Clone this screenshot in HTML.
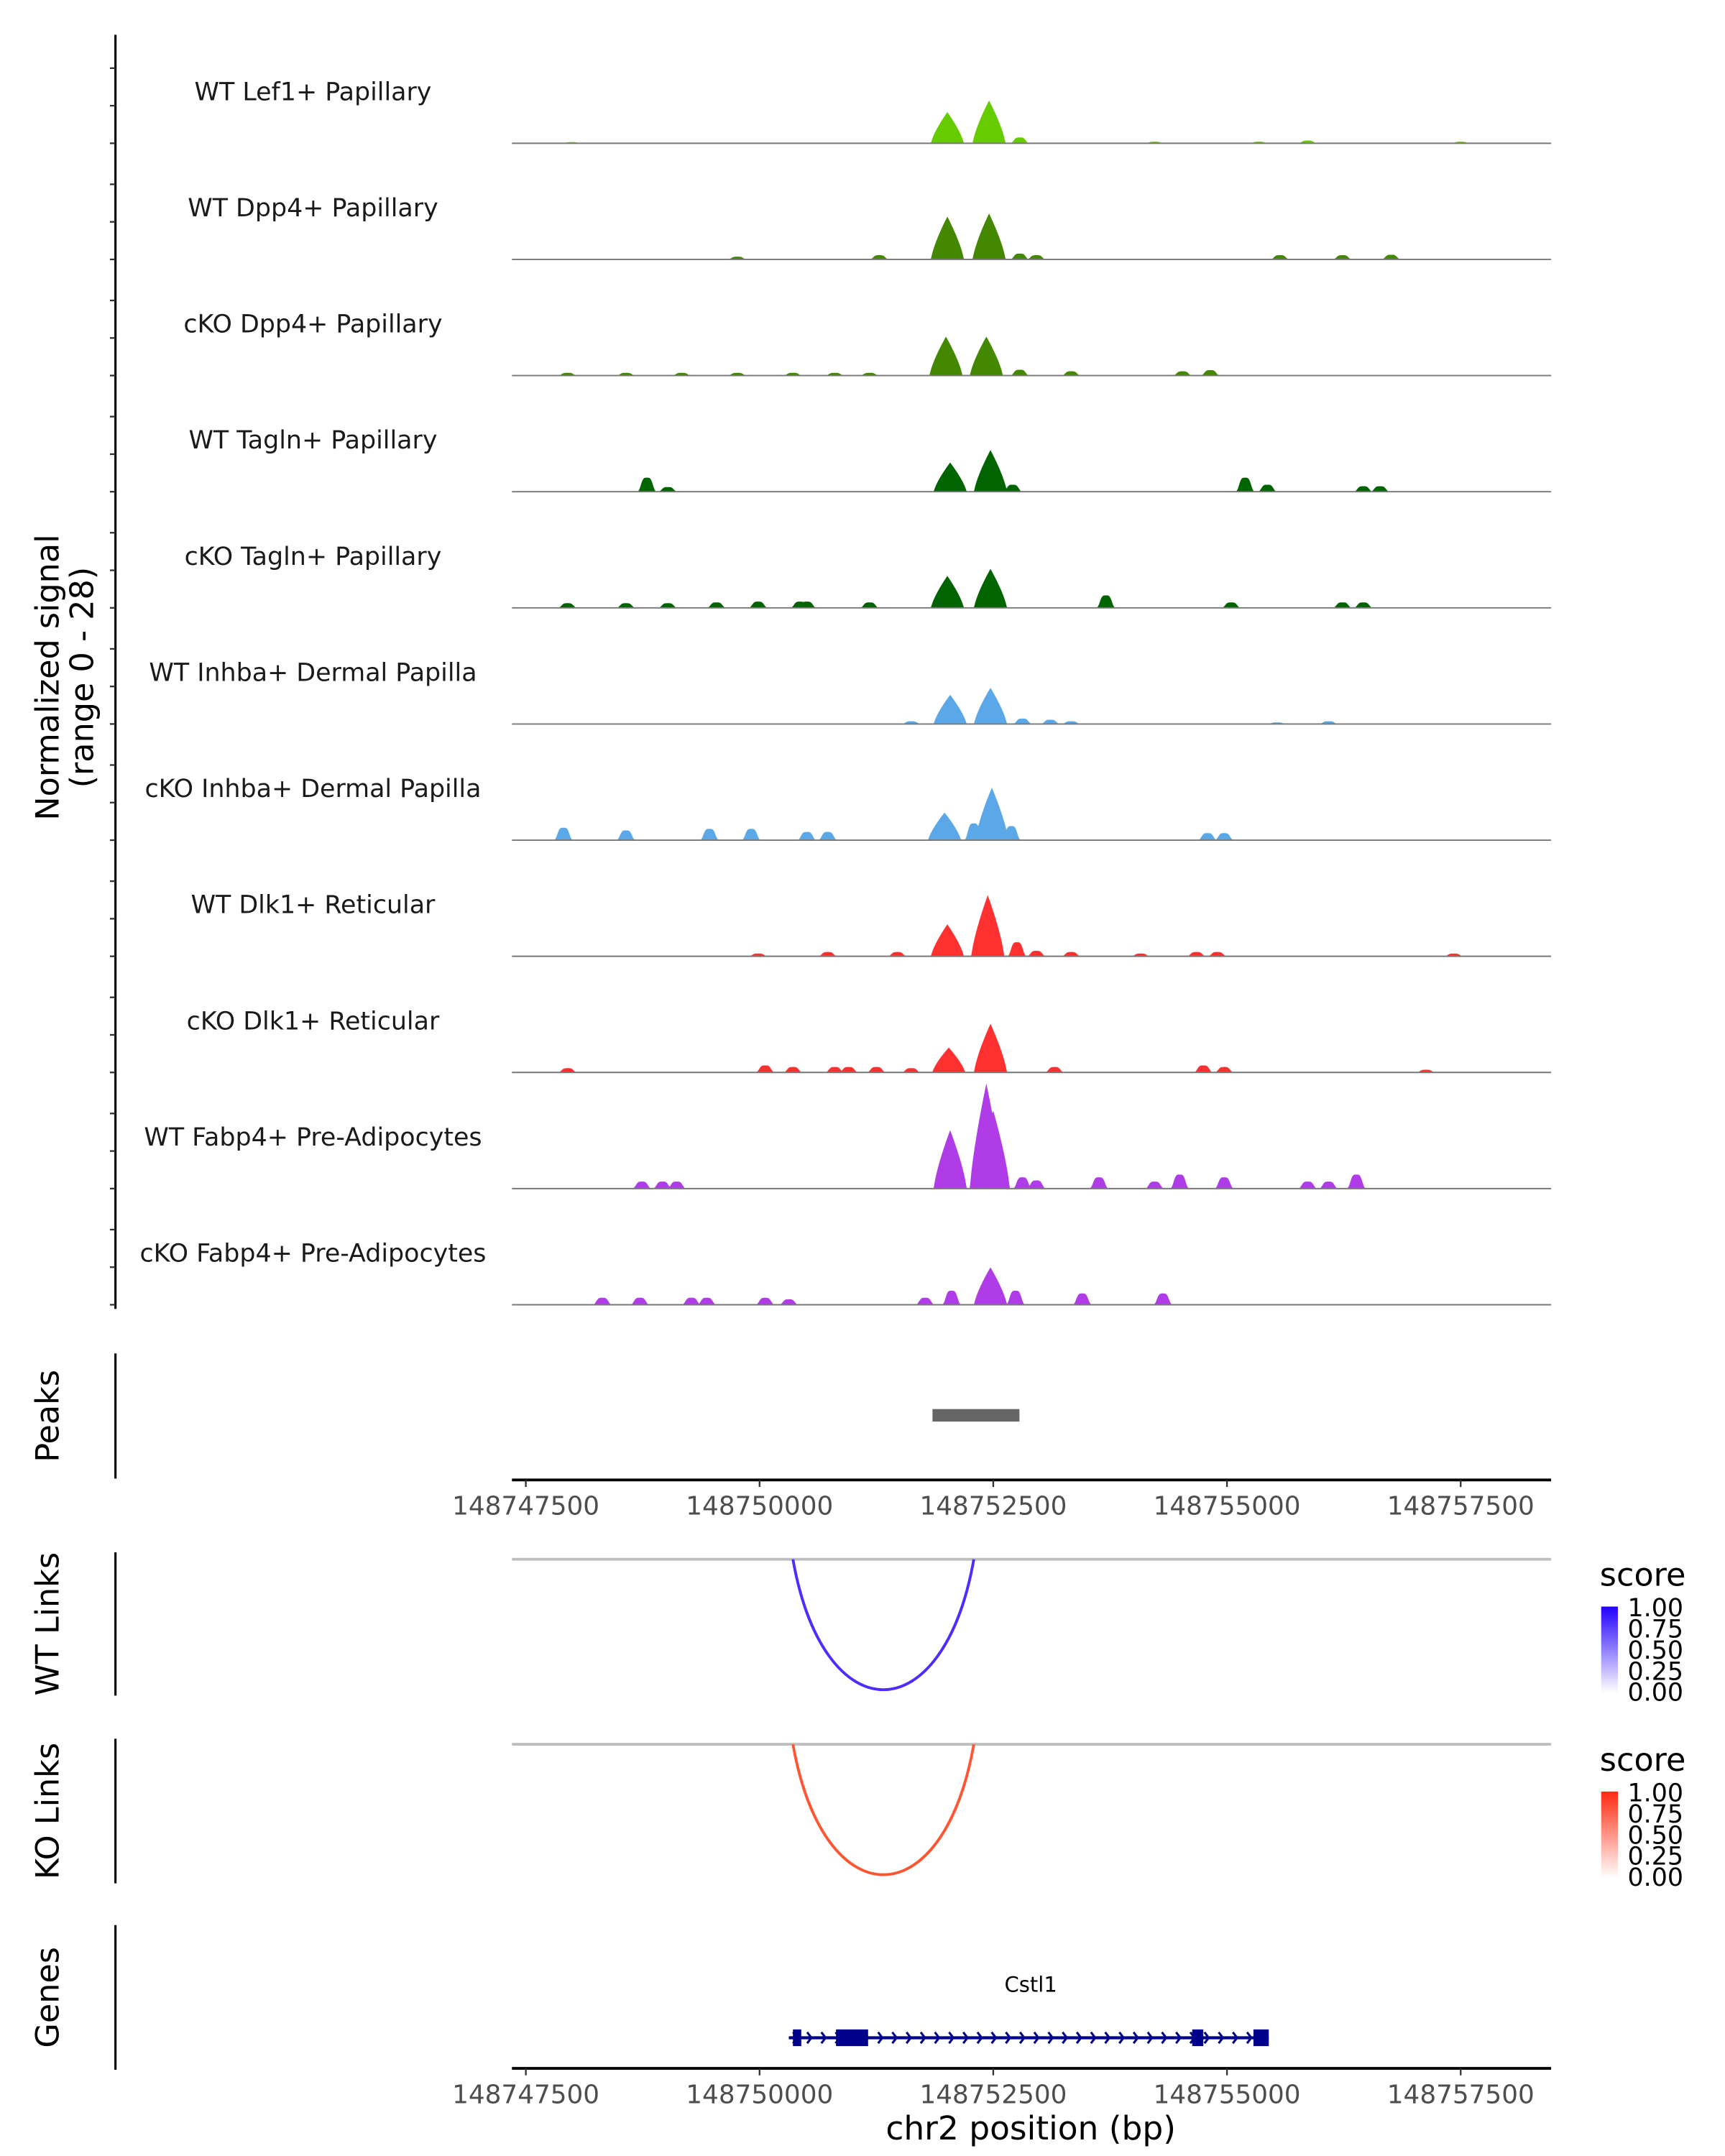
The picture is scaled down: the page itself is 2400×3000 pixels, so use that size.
<!DOCTYPE html>
<html><head><meta charset="utf-8">
<style>html,body{margin:0;padding:0;background:#fff}svg{display:block}text{font-family:"DejaVu Sans","Liberation Sans",sans-serif}</style>
</head><body>
<svg id="chart" xmlns="http://www.w3.org/2000/svg" width="2400" height="3000" viewBox="0 0 1240 1550" preserveAspectRatio="none">
<g id="g"></g>
</svg>
<script>
const trackNames = ["WT Lef1+ Papillary","WT Dpp4+ Papillary","cKO Dpp4+ Papillary","WT Tagln+ Papillary","cKO Tagln+ Papillary","WT Inhba+ Dermal Papilla","cKO Inhba+ Dermal Papilla","WT Dlk1+ Reticular","cKO Dlk1+ Reticular","WT Fabp4+ Pre-Adipocytes","cKO Fabp4+ Pre-Adipocytes"];
const trackColors = ["#66cc00","#448800","#448800","#006400","#006400","#5aa8e8","#5aa8e8","#ff3030","#ff3030","#b03ce8","#b03ce8"];
const peakPos = [
 [148752009,148752455,148752783,148755863,148747990,148754226,148755342,148757500],
 [148752009,148752455,148752783,148752961,148749762,148751280,148755566,148756235,148756756],
 [148751994,148752426,148752783,148753333,148754524,148754821,148747946,148748571,148749167,148749762,148750357,148750804,148751176],
 [148752039,148752470,148752708,148748795,148749018,148755194,148755432,148756458,148756637],
 [148752009,148752470,148753705,148755045,148747946,148748571,148749018,148749539,148749985,148750432,148750506,148751176,148756235,148756458],
 [148752039,148752470,148752812,148753110,148753333,148751622,148756086,148755536],
 [148751979,148752485,148752291,148752693,148747902,148748571,148749464,148749911,148750729,148750506,148754792,148754970],
 [148752009,148752441,148752753,148752961,148753333,148750729,148749985,148751473,148754077,148754673,148754896,148757426],
 [148752024,148752470,148750060,148750357,148750804,148750952,148751250,148751622,148753155,148747946,148754747,148754970,148757128],
 [148752039,148752426,148752500,148752812,148752961,148753631,148754494,148754970,148754226,148756384,148755863,148756086,148748741,148748961,148749113],
 [148752054,148752470,148752738,148751771,148753452,148754315,148748318,148748720,148749271,148749435,148750060,148750313]
];
const peakHeights = [
 [8,11,1.5,0.7,0.3,0.4,0.4,0.4],
 [11,11.8,1.5,1.1,0.7,1.1,1.1,1.1,1.2],
 [10,10,1.5,1.1,1.1,1.4,0.7,0.7,0.7,0.7,0.7,0.7,0.7],
 [7.5,10.7,1.8,3.6,1.2,3.6,1.8,1.4,1.4],
 [8.2,10,3.2,1.4,1.2,1.2,1.2,1.4,1.6,1.6,1.6,1.4,1.4,1.4],
 [7.5,9.3,1.4,1.1,0.7,0.7,0.7,0.4],
 [7.1,13.5,4.3,3.6,3.2,2.5,2.9,2.9,2.1,2.1,1.8,1.8],
 [8.2,15.7,3.6,1.4,1.1,1.1,0.7,1.1,0.7,1.1,1.1,0.7],
 [6.4,12.5,1.8,1.4,1.4,1.4,1.4,1.1,1.4,1.1,1.8,1.4,0.7],
 [15,27,20,2.9,2.1,2.9,3.6,2.9,1.8,3.6,1.8,1.8,1.8,1.8,1.8],
 [3.6,9.6,3.6,1.8,2.9,2.9,1.8,1.8,1.8,1.8,1.8,1.4]
];
const xTicks = [148747500,148750000,148752500,148755000,148757500];
const peakRegion = [148751850,148752780];
const linkStart = 148750357, linkEnd = 148752292;
const linkScoreWT = 1.0, linkScoreKO = 1.0;
const geneStart = 148750313, geneEnd = 148755447;
const exonStarts = [148750357,148750818,148754628,148755283];
const exonEnds = [148750446,148751161,148754747,148755447];
const exonHeights = [12,12,12,12];
const legendTicks = ["1.00","0.75","0.50","0.25","0.00"];

const NS="http://www.w3.org/2000/svg";
const g=document.getElementById('g');
const X0=368,X1=1115,BP0=148747500,PX0=378,BPPX=2500/168;
const xs=bp=>PX0+(bp-BP0)/BPPX;
const ys=v=>v*2.8;
function el(t,a,p){const e=document.createElementNS(NS,t);for(const k in a)e.setAttribute(k,a[k]);(p||g).appendChild(e);return e;}
function txt(s,a,p){const e=el('text',a,p);e.textContent=s;return e;}

let e=el('line',{x1:83,y1:25,x2:83,y2:941,stroke:'#000','stroke-width':1.6});

const base0=103,step=83.5;
for(let i=0;i<trackNames.length;i++){
  const by=base0+i*step;
  for(let k=0;k<3;k++){
    const t=el('line',{x1:79,x2:83,y1:by-k*27,y2:by-k*27,stroke:'#333','stroke-width':1.2});
    
  }
  const lab=txt(trackNames[i],{x:225,y:by-31,'text-anchor':'middle','font-size':18,fill:'#1a1a1a'});
  
  let d='M'+X0+','+by;
  for(let px=X0;px<=X1;px+=0.5){
    const bp=BP0+(px-PX0)*BPPX;let v=0;
    for(let j=0;j<peakPos[i].length;j++){
      const h=peakHeights[i][j];
      let s;
      if(h>5){const dd=Math.abs(bp-peakPos[i][j])/175;s=dd<1?h*Math.pow(1-dd,0.75):0;}
      else{const dd=(bp-peakPos[i][j])/70;s=h*Math.exp(-dd*dd*dd*dd);}
      if(s>v)v=s;
    }
    if(v<0.15)v=0;
    d+='L'+px.toFixed(1)+','+(by-ys(v)).toFixed(2);
  }
  d+='L'+X1+','+by+'Z';
  const p=el('path',{d:d,fill:trackColors[i]});
  
  const bl=el('line',{x1:X0,x2:X1,y1:by,y2:by,stroke:'#777','stroke-width':1});
  
}
e=txt('Normalized signal',{transform:'translate(42,487) rotate(-90)','text-anchor':'middle','font-size':23,fill:'#000'});

e=txt('(range 0 - 28)',{transform:'translate(67,487) rotate(-90)','text-anchor':'middle','font-size':23,fill:'#000'});


function sideAxis(name,y1,y2,label){
  const a=el('line',{x1:83,x2:83,y1:y1,y2:y2,stroke:'#000','stroke-width':1.6});
  
  const t=txt(label,{transform:'translate(42,'+((y1+y2)/2)+') rotate(-90)','text-anchor':'middle','font-size':23,fill:'#000'});
  
}
sideAxis('peaks',973,1063,'Peaks');
sideAxis('wt-links',1116,1219,'WT Links');
sideAxis('ko-links',1250,1354,'KO Links');
sideAxis('genes',1384,1488,'Genes');

e=el('rect',{x:xs(peakRegion[0]),y:1013,width:xs(peakRegion[1])-xs(peakRegion[0]),height:9,fill:'#666'});


function xAxis(y,name){
  const a=el('line',{x1:X0,x2:X1,y1:y,y2:y,stroke:'#000','stroke-width':2});
  
  xTicks.forEach(v=>{
    const t=el('line',{x1:xs(v),x2:xs(v),y1:y,y2:y+5,stroke:'#333','stroke-width':1.2});
    
    const l=txt(String(v),{x:xs(v),y:y+25,'text-anchor':'middle','font-size':18.5,fill:'#4d4d4d'});
    
  });
}
xAxis(1064,'peaks-x-axis');
xAxis(1487,'genes-x-axis');
e=txt('chr2 position (bp)',{x:741,y:1538,'text-anchor':'middle','font-size':23.5,fill:'#000'});


const defs=el('defs',{});
function grad(id,c){const lg=el('linearGradient',{id:id,x1:0,y1:1,x2:0,y2:0},defs);el('stop',{offset:0,'stop-color':'#ffffff'},lg);el('stop',{offset:1,'stop-color':c},lg);}
grad('gb','#2200ff');grad('gr','#ff2a10');
function links(top,col,gid,name,score){
  const l=el('line',{x1:X0,x2:X1,y1:top,y2:top,stroke:'#bebebe','stroke-width':2});
  
  const a=xs(linkStart),b=xs(linkEnd),depth=94*score;
  const p=el('path',{d:'M'+a+','+top+' C'+(a+(b-a)*0.17)+','+(top+depth*1.33)+' '+(b-(b-a)*0.17)+','+(top+depth*1.33)+' '+b+','+top,fill:'none',stroke:col,'stroke-width':2});
  
  const s=txt('score',{x:1150,y:top+19,'font-size':23,fill:'#000'});
  
  const r=el('rect',{x:1151,y:top+34,width:12,height:62,fill:'url(#'+gid+')'});
  
  legendTicks.forEach((t,i)=>{
    const ty=top+35+i*15.2;
    const tl=txt(t,{x:1170,y:ty+6,'font-size':18,fill:'#000'});
    
  });
}
links(1121,'#4b2dff','gb','wt-links',linkScoreWT);
links(1254,'#ff5533','gr','ko-links',linkScoreKO);

e=txt('Cstl1',{x:741,y:1432,'text-anchor':'middle','font-size':15,fill:'#000'});

e=el('line',{x1:xs(geneStart),x2:xs(geneEnd),y1:1465,y2:1465,stroke:'#00008b','stroke-width':2.2});

for(let px=xs(geneStart)+6;px<xs(geneEnd)-4;px+=10.2){
  const a=el('path',{d:'M'+(px-3)+',1461 L'+px+',1465 L'+(px-3)+',1469',fill:'none',stroke:'#00008b','stroke-width':1.6});
  
}
exonStarts.forEach((s,i)=>{
  const x=xs(s),w=Math.max(xs(exonEnds[i])-x,6);
  const r=el('rect',{x:x,y:1465-exonHeights[i]/2,width:w,height:exonHeights[i],fill:'#00008b'});
  
});
</script>
</body></html>
